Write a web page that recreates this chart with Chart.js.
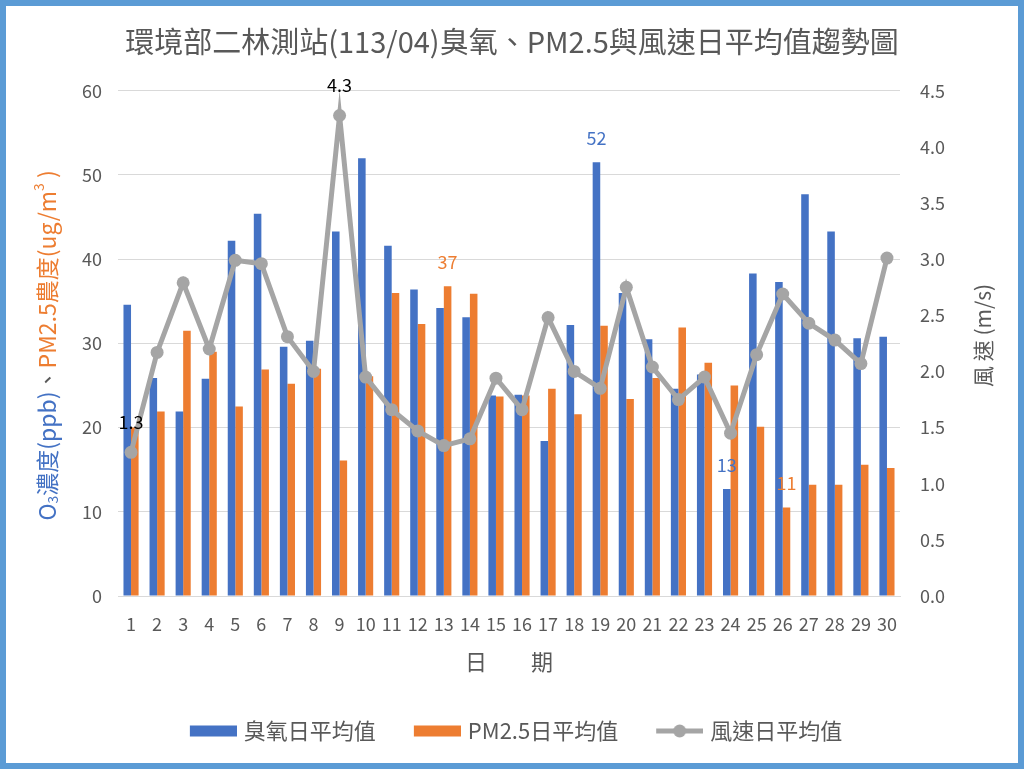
<!DOCTYPE html>
<html>
<head>
<meta charset="utf-8">
<script src="https://cdn.jsdelivr.net/npm/chart.js@4.4.1/dist/chart.umd.min.js"></script>
<style>
html, body { margin: 0; padding: 0; background: #fff; }
#frame { width: 1024px; height: 769px; box-sizing: border-box; border: 6px solid #5B9BD5; background: #fff; }
#c { display: block; }
</style>
</head>
<body>
<div id="frame"><canvas id="c" width="1012" height="757"></canvas></div>
<script>
// 日期 (113/04)
const days = ['1','2','3','4','5','6','7','8','9','10','11','12','13','14','15',
              '16','17','18','19','20','21','22','23','24','25','26','27','28','29','30'];
// 臭氧日平均值 (ppb)
const ozone = [34.6, 25.9, 21.9, 25.8, 42.2, 45.4, 29.6, 30.3, 43.3, 52.0,
               41.6, 36.4, 34.2, 33.1, 23.8, 23.9, 18.4, 32.2, 51.5, 36.0,
               30.5, 24.6, 26.3, 12.7, 38.3, 37.3, 47.7, 43.3, 30.6, 30.8];
// PM2.5日平均值 (ug/m3)
const pm25 = [20.0, 21.9, 31.5, 29.0, 22.5, 26.9, 25.2, 27.0, 16.1, 26.1,
              36.0, 32.3, 36.8, 35.9, 23.7, 23.8, 24.6, 21.6, 32.1, 23.4,
              25.9, 31.9, 27.7, 25.0, 20.1, 10.5, 13.2, 13.2, 15.6, 15.2];
// 風速日平均值 (m/s)
const wind = [1.28, 2.17, 2.79, 2.20, 2.99, 2.96, 2.31, 2.00, 4.28, 1.95,
              1.66, 1.47, 1.34, 1.40, 1.94, 1.66, 2.48, 2.00, 1.85, 2.75,
              2.04, 1.75, 1.95, 1.45, 2.15, 2.69, 2.43, 2.28, 2.07, 3.01];

// 標示的資料標籤 (dataset index, day, text)
const noteSeries = [2, 2, 1, 0, 0, 1];
const noteDays   = [1, 9, 13, 19, 24, 26];
const noteTexts  = ['1.3', '4.3', '37', '52', '13', '11'];

const BLUE = '#4472C4', ORANGE = '#ED7D31', GRAY = '#A5A5A5', TXT = '#595959';
const FONT = '"Noto Sans CJK TC", "Noto Sans", sans-serif';

// legend icons: transparent lead-in on the left, then the 47px key
function makeIcon(kind, color) {
    const cv = document.createElement('canvas');
    cv.width = 77; cv.height = 14;
    const g = cv.getContext('2d');
    g.fillStyle = color;
    if (kind === 'bar') {
        g.fillRect(30, 1.5, 47, 11);
    } else {
        g.strokeStyle = color; g.lineWidth = 5;
        g.beginPath(); g.moveTo(30, 7); g.lineTo(77, 7); g.stroke();
        g.beginPath(); g.arc(53.5, 7, 6.5, 0, Math.PI * 2); g.fill();
    }
    return cv;
}
const icons = [makeIcon('bar', BLUE), makeIcon('bar', ORANGE), makeIcon('line', GRAY)];

// 軸標題與資料標籤
const extras = {
    id: 'extras',
    afterLayout(chart) {
        // nudge the legend row a little to the left
        chart.legend.left -= 9;
        chart.legend.right -= 9;
    },
    afterDraw(chart) {
        const ctx = chart.ctx;
        const area = chart.chartArea;
        const cy = (area.top + area.bottom) / 2;

        // left axis title (multi-colour, rotated)
        const parts = [
            { t: 'O', c: BLUE, s: 23, dy: 0 },
            { t: '3', c: BLUE, s: 14, dy: 6 },
            { t: '濃度(ppb)', c: BLUE, s: 23, dy: 0 },
            { t: '、', c: TXT, s: 23, dy: 0 },
            { t: 'PM2.5農度(ug/m', c: ORANGE, s: 23, dy: 0 },
            { t: '3', c: ORANGE, s: 14, dy: -8 },
            { t: ' )', c: ORANGE, s: 23, dy: 0 }
        ];
        ctx.save();
        ctx.translate(41, cy + 2);
        ctx.rotate(-Math.PI / 2);
        ctx.textBaseline = 'middle';
        ctx.textAlign = 'left';
        let total = 0;
        parts.forEach(p => { ctx.font = p.s + 'px ' + FONT; p.w = ctx.measureText(p.t).width; total += p.w; });
        let x = -total / 2;
        parts.forEach(p => {
            ctx.font = p.s + 'px ' + FONT;
            ctx.fillStyle = p.c;
            ctx.fillText(p.t, x, p.dy);
            x += p.w;
        });
        ctx.restore();

        // right axis title
        ctx.save();
        ctx.translate(977, cy - 8);
        ctx.rotate(-Math.PI / 2);
        ctx.textBaseline = 'middle';
        ctx.textAlign = 'center';
        ctx.font = '21px ' + FONT;
        ctx.fillStyle = TXT;
        ctx.fillText('風 速 (m/s)', 0, 0);
        ctx.restore();

        // data labels
        const noteColors = [BLUE, ORANGE, '#000000'];
        ctx.save();
        ctx.font = '18px ' + FONT;
        ctx.textAlign = 'center';
        ctx.textBaseline = 'middle';
        for (let i = 0; i < noteTexts.length; i++) {
            const el = chart.getDatasetMeta(noteSeries[i]).data[noteDays[i] - 1];
            const off = noteSeries[i] === 2 ? 30 : 24;
            ctx.fillStyle = noteColors[noteSeries[i]];
            ctx.fillText(noteTexts[i], el.x, el.y - off);
        }
        ctx.restore();
    }
};

Chart.defaults.font.family = FONT;
Chart.defaults.color = TXT;

new Chart(document.getElementById('c'), {
    type: 'bar',
    data: {
        labels: days,
        datasets: [
            { label: '臭氧日平均值', data: ozone, backgroundColor: BLUE, yAxisID: 'y',
              order: 1, categoryPercentage: 0.58, barPercentage: 1.0 },
            { label: 'PM2.5日平均值', data: pm25, backgroundColor: ORANGE, yAxisID: 'y',
              order: 1, categoryPercentage: 0.58, barPercentage: 1.0 },
            { type: 'line', label: '風速日平均值', data: wind, yAxisID: 'y1', order: 0,
              borderColor: GRAY, backgroundColor: GRAY, borderWidth: 5,
              pointRadius: 6.5, pointBackgroundColor: GRAY, pointBorderWidth: 0, tension: 0 }
        ]
    },
    options: {
        responsive: false,
        animation: false,
        devicePixelRatio: 1,
        layout: { padding: { top: 0, left: 0, right: 0, bottom: 11 } },
        plugins: {
            title: {
                display: true,
                text: '環境部二林測站(113/04)臭氧、PM2.5與風速日平均值趨勢圖',
                color: TXT,
                font: { size: 29, weight: 'normal' },
                padding: { top: 19, bottom: 31 }
            },
            legend: {
                position: 'bottom',
                labels: {
                    usePointStyle: true,
                    pointStyleWidth: 69,
                    padding: 12,
                    color: TXT,
                    font: { size: 22 },
                    sort: (a, b) => a.datasetIndex - b.datasetIndex,
                    generateLabels(chart) {
                        const items = Chart.defaults.plugins.legend.labels.generateLabels(chart);
                        items.forEach(it => { it.pointStyle = icons[it.datasetIndex]; });
                        return items;
                    }
                }
            },
            tooltip: { enabled: false }
        },
        scales: {
            x: {
                grid: { display: false },
                border: { color: '#D9D9D9' },
                ticks: { color: TXT, font: { size: 18 }, autoSkip: false, maxRotation: 0, padding: 9 },
                title: { display: true, text: '日　　期', color: TXT, font: { size: 22 },
                         padding: { top: 0, bottom: 33 } },
                afterFit(scale) { scale.height = 112; }
            },
            y: {
                position: 'left',
                min: 0, max: 60,
                ticks: { stepSize: 10, color: TXT, font: { size: 18 }, padding: 16 },
                grid: { color: '#D9D9D9', drawTicks: false },
                border: { display: false },
                afterFit(scale) { scale.width = 112; }
            },
            y1: {
                position: 'right',
                min: 0, max: 4.5,
                ticks: { stepSize: 0.5, color: TXT, font: { size: 18 }, padding: 20,
                         callback: v => Number(v).toFixed(1) },
                grid: { drawOnChartArea: false, drawTicks: false },
                border: { display: false },
                afterFit(scale) { scale.width = 118; }
            }
        }
    },
    plugins: [extras]
});
</script>
</body>
</html>
